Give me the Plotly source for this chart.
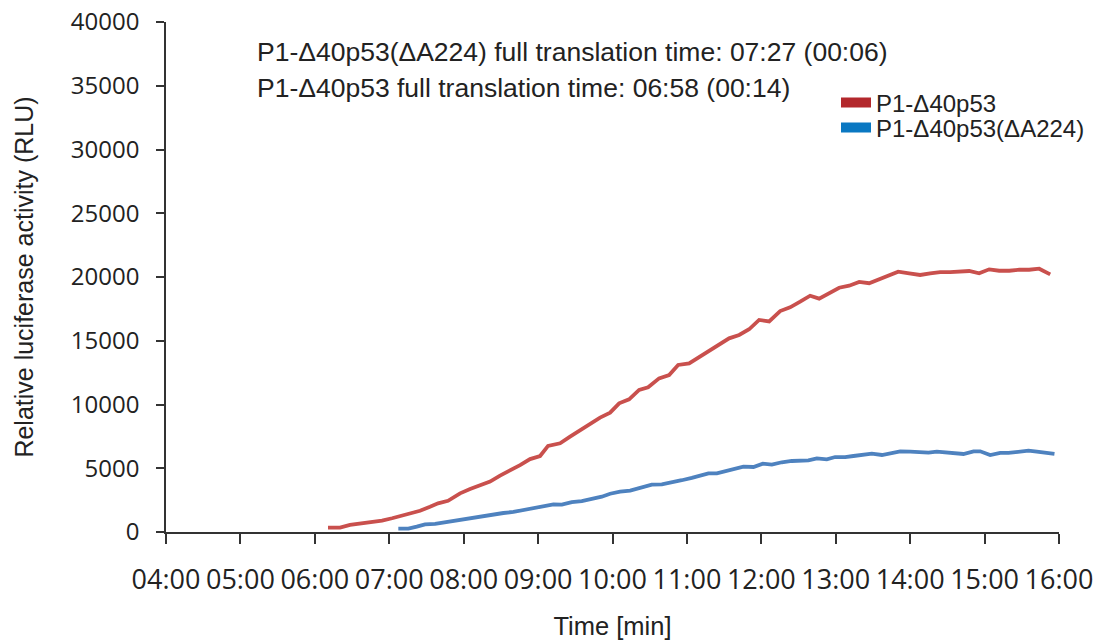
import plotly.graph_objects as go

# Time in minutes, RLU values
red_t = [6.177, 6.339, 6.473, 6.634, 6.769, 6.903, 7.038, 7.145, 7.280, 7.414,
         7.548, 7.656, 7.790, 7.952, 8.086, 8.220, 8.355, 8.489, 8.624, 8.758,
         8.892, 9.027, 9.134, 9.296, 9.430, 9.565, 9.699, 9.833, 9.968, 10.089,
         10.223, 10.358, 10.479, 10.626, 10.761, 10.882, 11.030, 11.164, 11.298, 11.433,
         11.567, 11.702, 11.836, 11.970, 12.105, 12.253, 12.387, 12.522, 12.656, 12.777,
         12.911, 13.046, 13.180, 13.315, 13.449, 13.583, 13.718, 13.839, 13.987, 14.134,
         14.269, 14.403, 14.538, 14.672, 14.793, 14.927, 15.062, 15.196, 15.331, 15.465,
         15.599, 15.734, 15.882]
red_v = [340, 340, 550, 650, 780, 890, 1080, 1250, 1470, 1670,
         1980, 2250, 2450, 3030, 3370, 3690, 3950, 4420, 4810, 5250,
         5720, 5960, 6750, 6960, 7480, 8000, 8520, 8970, 9360, 10090,
         10410, 11140, 11350, 12050, 12310, 13100, 13230, 13700, 14220, 14720,
         15190, 15450, 15900, 16630, 16520, 17330, 17620, 18060, 18530, 18300,
         18720, 19160, 19320, 19610, 19510, 19820, 20080, 20420, 20290, 20160,
         20290, 20390, 20390, 20470, 20470, 20290, 20600, 20490, 20490, 20570,
         20570, 20650, 20210]

blue_t = [7.122, 7.257, 7.370, 7.481, 7.616, 7.750, 7.884, 8.019, 8.153, 8.265,
          8.399, 8.534, 8.668, 8.802, 8.937, 9.071, 9.206, 9.319, 9.453, 9.587,
          9.722, 9.856, 9.968, 10.102, 10.237, 10.371, 10.528, 10.663, 10.797, 10.931,
          11.066, 11.200, 11.289, 11.402, 11.536, 11.648, 11.759, 11.894, 12.020, 12.141,
          12.275, 12.410, 12.522, 12.633, 12.746, 12.880, 12.992, 13.126, 13.238, 13.372,
          13.485, 13.620, 13.731, 13.866, 14.000, 14.134, 14.246, 14.359, 14.493, 14.605,
          14.716, 14.851, 14.941, 15.075, 15.210, 15.321, 15.456, 15.590, 15.702, 15.836,
          15.939]
blue_v = [260, 260, 420, 600, 630, 760, 860, 970, 1080, 1200,
          1390, 1490, 1570, 1730, 1860, 2020, 2170, 2140, 2350, 2430,
          2570, 2770, 3000, 3160, 3240, 3430, 3710, 3740, 3870, 4060,
          4240, 4450, 4600, 4600, 4810, 4970, 5120, 5100, 5360, 5280,
          5470, 5570, 5620, 5620, 5780, 5700, 5880, 5880, 5960, 6060,
          6140, 6040, 6140, 6330, 6300, 6220, 6220, 6300, 6220, 6220,
          6120, 6330, 6330, 6040, 6200, 6200, 6300, 6380, 6300, 6220,
          6120]

x_tickvals = [4, 5, 6, 7, 8, 9, 10, 11, 12, 13, 14, 15, 16]
x_ticktext = ["04:00", "05:00", "06:00", "07:00", "08:00", "09:00", "10:00",
              "11:00", "12:00", "13:00", "14:00", "15:00", "16:00"]
y_tickvals = [0, 5000, 10000, 15000, 20000, 25000, 30000, 35000, 40000]

series_names = ["P1-\u039440p53", "P1-\u039440p53(\u0394A224)"]
line_colors = ["#c9504d", "#4e82bf"]
legend_colors = ["#b3282c", "#0a78c2"]

annot_lines = [
    "P1-\u039440p53(\u0394A224) full translation time: 07:27 (00:06)",
    "P1-\u039440p53 full translation time: 06:58 (00:14)",
]

SANS = "Liberation Sans, Arial, sans-serif"
TICKF = "Open Sans, sans-serif"

fig = go.Figure()
fig.add_trace(go.Scatter(x=red_t, y=red_v, mode="lines", showlegend=False,
                         line=dict(color=line_colors[0], width=3.8)))
fig.add_trace(go.Scatter(x=blue_t, y=blue_v, mode="lines", showlegend=False,
                         line=dict(color=line_colors[1], width=3.8)))
# legend-only entries, each in its own legend box for exact row placement
legend_ids = ["legend", "legend2"]
for name, col, lid in zip(series_names, legend_colors, legend_ids):
    fig.add_trace(go.Scatter(x=[None], y=[None], mode="lines", name=name,
                             legend=lid, line=dict(color=col, width=10)))

FW, FH = 1093, 640
PW, PH, L, T = 893, 510, 166, 22
def px(xp):
    return (xp - L) / PW
def py(yp):
    return 1 - (yp - T) / PH

leg_common = dict(xanchor="left", yanchor="middle", bgcolor="rgba(0,0,0,0)",
                  itemwidth=30, font=dict(size=24, family=SANS, color="#222222"))
fig.update_layout(
    width=FW, height=FH,
    margin=dict(l=L, r=FW - L - PW, t=T, b=FH - T - PH, autoexpand=False),
    plot_bgcolor="white", paper_bgcolor="white",
    font=dict(family=SANS, size=24, color="#222222"),
    legend=dict(x=px(836), y=py(103), **leg_common),
    legend2=dict(x=px(836), y=py(128), **leg_common),
    showlegend=True,
)
fig.update_xaxes(
    range=[4, 16], tickvals=x_tickvals, ticktext=x_ticktext, automargin=False,
    showgrid=False, zeroline=False, showline=True, linecolor="#333333", linewidth=1.5,
    ticks="outside", ticklen=10, tickwidth=1.5, tickcolor="#333333",
    tickfont=dict(family=TICKF, size=27, color="#222222"),
    ticklabelstandoff=13, ticklabeloverflow="allow",
    title=dict(text="Time [min]", font=dict(size=25.5, family=SANS), standoff=21),
)
fig.update_yaxes(
    range=[0, 40000], tickvals=y_tickvals, tickformat="d", automargin=False,
    showgrid=False, zeroline=False, showline=True, linecolor="#333333", linewidth=1.5,
    ticks="outside", ticklen=8, tickwidth=1.5, tickcolor="#333333",
    tickfont=dict(family=TICKF, size=24, color="#222222"),
    ticklabelstandoff=12, ticklabeloverflow="allow",
    title=dict(text="Relative luciferase activity (RLU)", font=dict(size=25, family=SANS), standoff=30),
)
for i, txt in enumerate(annot_lines):
    fig.add_annotation(text=txt, xref="paper", yref="paper",
                       x=px(255), y=py(52 + 36 * i),
                       xanchor="left", yanchor="middle", showarrow=False,
                       font=dict(size=26.5, family=SANS, color="#222222"))

# remove the browser's default page margin so the figure sits at the window origin
page_fix = ("document.body.style.margin='0';"
            "document.body.style.overflow='hidden';"
            "document.documentElement.style.overflow='hidden';")
fig.write_html("out.html", post_script=page_fix, config={"displayModeBar": False})
